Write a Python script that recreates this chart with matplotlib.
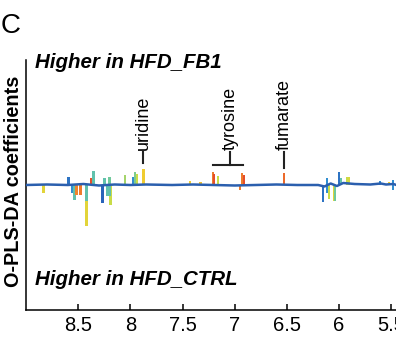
import matplotlib
matplotlib.use("Agg")
import matplotlib.pyplot as plt
from matplotlib.colors import LinearSegmentedColormap

plt.rcParams['font.family'] = ['Liberation Sans', 'DejaVu Sans']

# baseline of the coefficient trace (ppm, coefficient)
base_ppm = [9.0, 8.8, 8.6, 8.45, 8.3, 8.15, 8.0, 7.85, 7.6, 7.4, 7.2, 7.0, 6.8,
            6.6, 6.4, 6.2, 6.14, 6.08, 6.02, 5.96, 5.85, 5.7, 5.6, 5.55, 5.48, 5.45]
base_val = [0.0, 0.004, 0.0, 0.008, -0.004, 0.004, 0.0, 0.004, 0.0, 0.004, 0.0,
            -0.004, 0.0, 0.004, 0.0, 0.0, -0.012, 0.012, -0.008, 0.016, 0.008,
            0.004, 0.012, 0.004, 0.008, 0.0]

# peaks: position (ppm), coefficient, colour value (correlation)
peak_ppm = [8.596, 8.375, 8.356, 8.251, 8.203, 8.05, 7.973, 7.954, 7.935, 7.877,
            7.427, 7.331, 7.207, 7.197, 7.159, 6.929, 6.91, 6.527, 6.115, 6.0,
            5.981, 5.923, 5.904, 5.607, 5.521, 5.483,
            8.835, 8.557, 8.423, 8.538, 8.519, 8.481, 8.423, 8.27, 8.193, 8.222,
            8.203, 6.948, 6.153, 6.115, 6.096, 6.048, 6.038, 5.483]
peak_val = [0.064, 0.056, 0.112, 0.056, 0.064, 0.08, 0.064, 0.104, 0.088, 0.128,
            0.032, 0.024, 0.104, 0.09, 0.072, 0.096, 0.08, 0.096, 0.056, 0.104,
            0.056, 0.064, 0.064, 0.032, 0.024, 0.04,
            -0.064, -0.064, -0.328, -0.12, -0.08, -0.08, -0.13, -0.144, -0.16,
            -0.088, -0.09, -0.04, -0.136, -0.064, -0.112, -0.128, -0.128, -0.04]
peak_col = [0.15, 0.88, 0.35, 0.35, 0.38, 0.45, 0.2, 0.4, 0.5, 0.63,
            0.63, 0.65, 0.78, 0.88, 0.5, 0.78, 0.88, 0.82, 0.2, 0.15,
            0.35, 0.5, 0.55, 0.2, 0.63, 0.2,
            0.58, 0.2, 0.58, 0.35, 0.76, 0.78, 0.35, 0.12, 0.5,
            0.35, 0.35, 0.78, 0.15, 0.2, 0.5, 0.58, 0.38, 0.2]

# annotations: label, ppm of stem, lower end of stem, bracket extent
labels = ["uridine", "tyrosine", "fumarate"]
label_ppm = [7.877, 7.044, 6.527]
label_low = [0.176, 0.16, 0.136]
bracket = [None, (7.207, 6.92), None]

cmap = LinearSegmentedColormap.from_list(
    "muted_jet", ['#1d3f8f', '#2a66bd', '#38a8dc', '#6cc8a0', '#c8dc48',
                  '#f0d030', '#f08a2c', '#e8502a', '#c8302a'])

fig = plt.figure(figsize=(3.96, 3.62), dpi=100)
ax = fig.add_axes([26 / 396, 1 - 310 / 362, 1 - 26 / 396, 250 / 362])

ax.bar(peak_ppm, peak_val, width=0.026, color=[cmap(c) for c in peak_col],
       linewidth=0, zorder=2)
ax.plot(base_ppm, base_val, color='#2b5fae', lw=1.8, zorder=3)

for name, x, lo, br in zip(labels, label_ppm, label_low, bracket):
    ax.plot([x, x], [lo, 0.262], color='#222222', lw=1.5, zorder=4)
    if br:
        ax.plot(list(br), [lo, lo], color='#222222', lw=1.5, zorder=4)
    ax.text(x, 0.28, name, rotation=90, ha='center', va='bottom', fontsize=13)

ax.set_xlim(9.0, 5.454)
ax.set_ylim(-1, 1)
ax.set_xticks([8.5, 8, 7.5, 7, 6.5, 6, 5.5])
ax.set_xticklabels(["8.5", "8", "7.5", "7", "6.5", "6", "5.5"])
ax.set_yticks([])
ax.tick_params(axis='x', direction='in', length=4.5, width=1.1, labelsize=14.5, pad=4)
for side in ['top', 'right']:
    ax.spines[side].set_visible(False)
for side in ['left', 'bottom']:
    ax.spines[side].set_linewidth(1.1)

fig.text(1 / 396, 1 - 33 / 362, "C", fontsize=20, va='baseline')
fig.text(35 / 396, 1 - 68 / 362, "Higher in HFD_FB1", fontsize=14.8,
         fontweight='bold', fontstyle='italic', va='baseline')
fig.text(35 / 396, 1 - 285 / 362, "Higher in HFD_CTRL", fontsize=14.8,
         fontweight='bold', fontstyle='italic', va='baseline')
fig.text(14 / 396, 1 - 181 / 362, "O-PLS-DA coefficients", fontsize=14.3,
         fontweight='bold', rotation=90, ha='center', va='center')

fig.savefig("out.png", dpi=100)
